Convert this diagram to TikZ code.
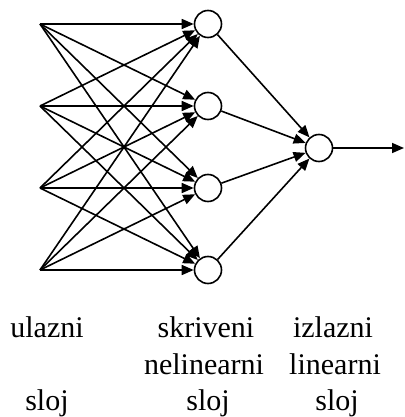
\documentclass[tikz,border=0pt]{standalone}
\usepackage{fontspec}
\setmainfont{Liberation Serif}
\usetikzlibrary{arrows.meta}
\begin{document}
\begin{tikzpicture}[x=1pt,y=-1pt,
  neuron/.style={circle,draw,line width=1.6pt,minimum size=27pt,inner sep=0pt,fill=white},
  conn/.style={line width=1.6pt,-{Triangle[length=12pt,width=10pt]}},
  lbl/.style={font=\fontsize{30}{32}\selectfont,inner sep=0pt,anchor=base}]
\useasboundingbox (0,0) rectangle (404,417);
\foreach \i/\y in {1/24,2/106,3/188,4/270}{
  \coordinate (i\i) at (40,\y);
  \node[neuron] (h\i) at (208,\y) {};
}
\node[neuron] (o) at (319,148) {};
\coordinate (out) at (404,148);
\foreach \i in {1,...,4}{
  \foreach \j in {1,...,4}{
    \draw[conn] (i\i) -- (h\j);
  }
  \draw[conn] (h\i) -- (o);
}
\draw[conn] (o) -- (out);
\node[lbl] (t1) at (47,337) {ulazni};
\node[lbl] (t2) at (206,337) {skriveni};
\node[lbl] (t3) at (333,337) {izlazni};
\node[lbl] (t4) at (204,374) {nelinearni};
\node[lbl] (t5) at (335,374) {linearni};
\node[lbl] (t6) at (47,410) {sloj};
\node[lbl] (t7) at (208,410) {sloj};
\node[lbl] (t8) at (337,410) {sloj};
\end{tikzpicture}
\end{document}
